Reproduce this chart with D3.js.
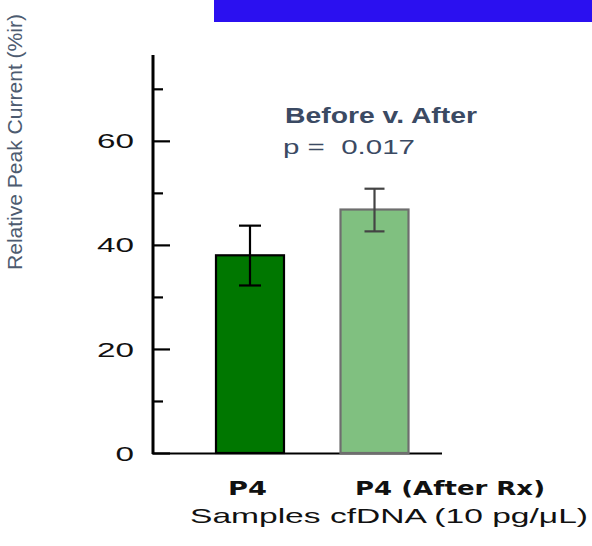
<!DOCTYPE html>
<html><head><meta charset="utf-8">
<script src="https://cdn.jsdelivr.net/npm/d3@7"></script>
<style>body{margin:0;background:#fff}svg{display:block}</style>
</head><body>
<svg id="c" width="592" height="546"></svg>
<script>
const categories = ["P4", "P4 (After Rx)"];
const values = [38, 46.8];
const errLow = [32.2, 42.6];
const errHigh = [43.7, 50.8];
const majorTicks = [0, 20, 40, 60];
const minorTicks = [10, 30, 50, 70];
const fills = ["#007700", "#80c080"];
const strokes = ["#000000", "#6e6e6e"];
const errColors = ["#000000", "#444444"];

const svg = d3.select("#c");
const SANS = "Liberation Sans, Arial, sans-serif";
// blue banner
svg.append("rect").attr("x", 214).attr("y", 0).attr("width", 378).attr("height", 22).attr("fill", "#2b10f0");

const y = d3.scaleLinear().domain([0, 76.5]).range([453, 55]);
const x = d3.scalePoint().domain(categories).range([153, 471.5]).padding(0.779);

// y axis ticks (inward)
const gy = svg.append("g").attr("transform", "translate(153,0)")
  .call(d3.axisRight(y).tickValues(majorTicks).tickSize(17).tickFormat(""));
gy.select(".domain").remove();
gy.selectAll(".tick line").attr("stroke", "#000").attr("stroke-width", 2.2);
const gy2 = svg.append("g").attr("transform", "translate(153,0)")
  .call(d3.axisRight(y).tickValues(minorTicks).tickSize(10).tickFormat(""));
gy2.select(".domain").remove();
gy2.selectAll(".tick line").attr("stroke", "#000").attr("stroke-width", 2.2);
svg.append("line").attr("x1", 153).attr("x2", 153).attr("y1", 55).attr("y2", 454).attr("stroke", "#000").attr("stroke-width", 3);
svg.append("line").attr("x1", 152).attr("x2", 442).attr("y1", 453.5).attr("y2", 453.5).attr("stroke", "#000").attr("stroke-width", 2);

// tick labels (horizontally stretched as in the reference)
svg.selectAll(".yl").data(majorTicks).enter().append("text")
  .attr("x", 134).attr("y", d => y(d)).attr("dy", "0.36em").attr("text-anchor", "end")
  .attr("font-family", SANS).attr("font-size", 21).attr("fill", "#111")
  .attr("textLength", d => String(d).length * 18.5).attr("lengthAdjust", "spacingAndGlyphs")
  .text(d => d);

// bars
const bw = 68;
svg.selectAll(".bar").data(values).enter().append("rect")
  .attr("x", (d, i) => x(categories[i]) - bw / 2)
  .attr("y", d => y(d)).attr("width", bw).attr("height", d => y(0) - y(d))
  .attr("fill", (d, i) => fills[i]).attr("stroke", (d, i) => strokes[i]).attr("stroke-width", 2.2);

// error bars
values.forEach((v, i) => {
  const cx = x(categories[i]);
  const hw = i === 0 ? 11 : 10;
  const g = svg.append("g").attr("stroke", errColors[i]).attr("stroke-width", 2.2);
  g.append("line").attr("x1", cx).attr("x2", cx).attr("y1", y(errHigh[i])).attr("y2", y(errLow[i]));
  g.append("line").attr("x1", cx - hw).attr("x2", cx + hw).attr("y1", y(errHigh[i])).attr("y2", y(errHigh[i]));
  g.append("line").attr("x1", cx - hw).attr("x2", cx + hw).attr("y1", y(errLow[i])).attr("y2", y(errLow[i]));
});

// category labels
const catX = [228, 355];
const catW = [39, 190];
svg.selectAll(".cl").data(categories).enter().append("text")
  .attr("x", (d, i) => catX[i]).attr("y", 495)
  .attr("font-family", "DejaVu Sans, Verdana, sans-serif").attr("font-weight", "bold").attr("font-size", 19).attr("fill", "#111")
  .attr("textLength", (d, i) => catW[i]).attr("lengthAdjust", "spacingAndGlyphs")
  .text(d => d);

// x title
svg.append("text").attr("x", 190).attr("y", 523)
  .attr("font-family", SANS).attr("font-size", 21).attr("fill", "#111")
  .attr("textLength", 398).attr("lengthAdjust", "spacingAndGlyphs")
  .text("Samples cfDNA (10 pg/\u03bcL)");

// y title
svg.append("text").attr("transform", "translate(22,270) rotate(-90)")
  .attr("font-family", SANS).attr("font-size", 20).attr("fill", "#4d5b70")
  .attr("textLength", 256).attr("lengthAdjust", "spacingAndGlyphs")
  .text("Relative Peak Current (%ir)");

// annotation
svg.append("text").attr("x", 285).attr("y", 123)
  .attr("font-family", SANS).attr("font-weight", "bold").attr("font-size", 22).attr("fill", "#3b4a63")
  .attr("textLength", 192).attr("lengthAdjust", "spacingAndGlyphs")
  .text("Before v. After");
svg.append("text").attr("x", 283).attr("y", 154)
  .attr("font-family", SANS).attr("font-size", 21).attr("fill", "#3b4a63")
  .attr("xml:space", "preserve")
  .attr("textLength", 132).attr("lengthAdjust", "spacingAndGlyphs")
  .text("p =  0.017");
</script>
</body></html>
